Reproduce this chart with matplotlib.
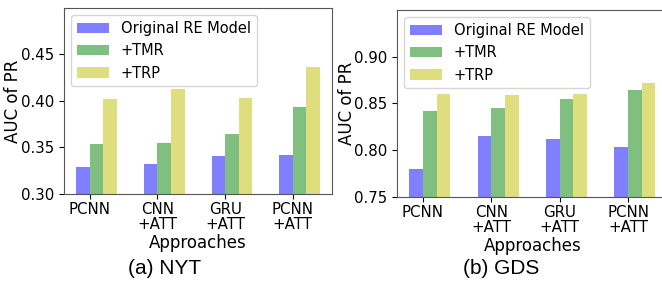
import matplotlib.pyplot as plt
import numpy as np

approaches = ['PCNN', 'CNN\n+ATT', 'GRU\n+ATT', 'PCNN\n+ATT']
series = ['Original RE Model', '+TMR', '+TRP']

nyt_orig = [0.329, 0.332, 0.341, 0.342]
nyt_tmr = [0.354, 0.355, 0.365, 0.393]
nyt_trp = [0.402, 0.413, 0.403, 0.436]

gds_orig = [0.780, 0.815, 0.812, 0.803]
gds_tmr = [0.842, 0.845, 0.855, 0.864]
gds_trp = [0.860, 0.859, 0.860, 0.872]

colors = ['b', 'g', 'y']

fig = plt.figure(figsize=(6.62, 2.82), dpi=100)
ax1 = fig.add_axes([0.0967, 0.312, 0.405, 0.66])
ax2 = fig.add_axes([0.5997, 0.301, 0.409, 0.664])

x = np.arange(len(approaches))
w = 0.2


def draw(ax, data, ylim, yticks, ylab_x):
    for k, vals in enumerate(data):
        ax.bar(x - w / 2 + k * w, vals, w, color=colors[k], alpha=0.5,
               label=series[k])
    ax.set_ylim(*ylim)
    ax.set_yticks(yticks)
    ax.set_yticklabels(['%.2f' % t for t in yticks], fontsize=10.8)
    ax.set_xticks(x)
    ax.set_xticklabels(approaches, fontsize=10.8, linespacing=1.05)
    ax.tick_params(axis='x', pad=2)
    ax.set_ylabel('AUC of PR', fontsize=12)
    ax.yaxis.set_label_coords(ylab_x, 0.5)
    ax.set_xlabel('Approaches', fontsize=12)
    ax.xaxis.set_label_coords(0.5, -0.215)
    ax.legend(loc='upper left', fontsize=10.5, handlelength=2.2)
    for s in ax.spines.values():
        s.set_color('#555555')


draw(ax1, [nyt_orig, nyt_tmr, nyt_trp], (0.30, 0.50), [0.30, 0.35, 0.40, 0.45], -0.155)
draw(ax2, [gds_orig, gds_tmr, gds_trp], (0.75, 0.95), [0.75, 0.80, 0.85, 0.90], -0.152)

fig.text(0.249, 0.03, '(a) NYT', fontsize=15, family='Liberation Sans', ha='center')
fig.text(0.757, 0.03, '(b) GDS', fontsize=15, family='Liberation Sans', ha='center')

plt.savefig('out.png', dpi=100)
